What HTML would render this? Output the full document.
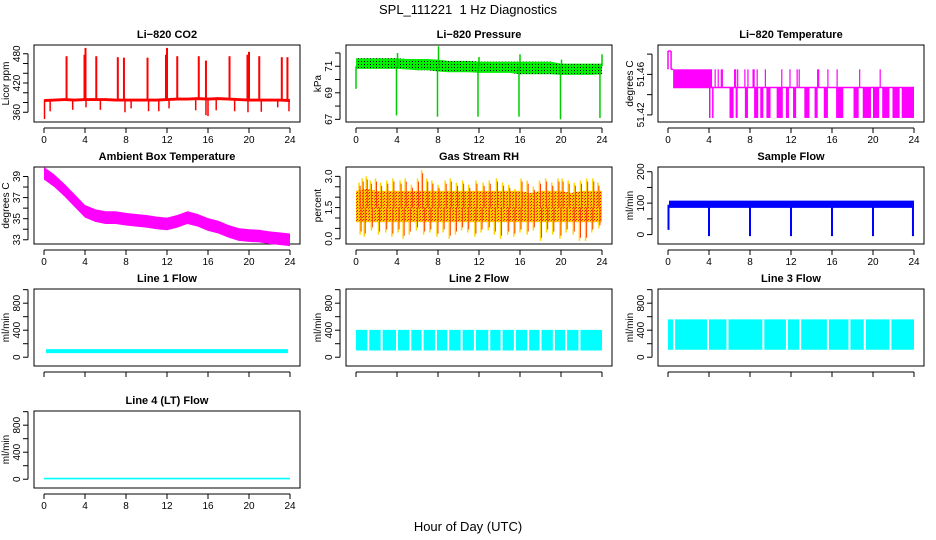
<!DOCTYPE html>
<html><head><meta charset="utf-8"><style>
html,body{margin:0;padding:0;background:#fff;}
svg{display:block;font-family:"Liberation Sans",Arial,sans-serif;}
</style></head><body>
<svg id="chart" width="936" height="540" viewBox="0 0 936 540" xmlns="http://www.w3.org/2000/svg">
<defs>
<pattern id="pgreen" width="3" height="3" patternUnits="userSpaceOnUse"><rect width="3" height="3" fill="#00ee00"/><rect x="1" y="1" width="1" height="1" fill="#000"/></pattern>
<pattern id="prh" width="3" height="3" patternUnits="userSpaceOnUse"><rect width="3" height="3" fill="#ffc800"/><rect x="0" y="0" width="1" height="1" fill="#ff0000"/><rect x="2" y="1" width="1" height="1" fill="#ff3000"/></pattern>
</defs>
<text x="468" y="14" text-anchor="middle" font-size="13">SPL_111221&#160;&#160;1 Hz Diagnostics</text>
<text x="468" y="531" text-anchor="middle" font-size="13">Hour of Day (UTC)</text>
</svg>
<script>
// ---------- data ----------
const xTicks = [0,4,8,12,16,20,24];
const hours = [0,1,2,3,4,5,6,7,8,9,10,11,12,13,14,15,16,17,18,19,20,21,22,23,24];
// CO2
const co2Base = [384,385,386,385,386,386,386,385,385,385,385,385,386,387,387,388,387,388,387,386,385,385,385,385,384];
const co2SpikeT = [2.2,3.95,4.05,5.1,7.2,7.8,10.1,11.9,12.0,13.0,15.1,15.8,18.1,19.85,20.0,21.0,23.2,23.75];
const co2SpikeV = [475,478,492,475,473,472,472,478,492,475,475,466,475,478,484,475,473,473];
const co2DipT = [0.05,0.6,2.8,4.1,5.5,7.9,8.5,10.2,11.2,12.2,14.8,15.8,16.0,16.8,18.6,19.9,21.2,22.8,23.9];
const co2DipV = [346,362,365,370,365,360,368,362,362,368,364,354,352,364,362,360,361,370,362];
const co2Ticks = [360,380,400,420,440,460,480];
const co2Labels = [360,420,480];
// Pressure
const presHi = [71.6,71.6,71.6,71.6,71.6,71.55,71.55,71.55,71.5,71.4,71.4,71.4,71.35,71.35,71.35,71.35,71.35,71.35,71.35,71.35,71.2,71.2,71.2,71.2,71.2];
const presLo = [70.8,70.8,70.8,70.8,70.8,70.75,70.7,70.7,70.6,70.55,70.55,70.55,70.5,70.5,70.5,70.5,70.4,70.4,70.4,70.4,70.35,70.35,70.35,70.35,70.4];
const presSpikeT = [0.0,3.95,4.05,7.95,8.05,11.9,12.0,15.9,16.0,19.95,20.05,23.8,24.0];
const presSpikeV = [69.3,67.3,72.0,67.2,72.5,67.2,71.7,67.2,71.9,67.0,71.5,67.1,71.9];
const presTicks = [67,68,69,70,71,72];
const presLabels = [67,69,71];
// Li-820 temperature
const tempStartT = [0.0,0.3,0.5];
const tempStartV = [51.483,51.465,51.447];
const tempBlockT = [0.5,4.3];
const tempDipStart = [4.0,4.3,6.0,6.6,7.5,8.4,9.0,9.6,10.6,11.5,12.2,13.3,14.3,15.2,16.4,18.1,19.0,20.0,20.9,21.9,22.8];
const tempDipEnd =   [4.05,4.35,6.4,6.8,7.8,8.8,9.3,10.0,11.2,11.8,12.5,13.8,14.6,15.6,17.1,18.6,19.8,20.6,21.6,22.6,24.0];
const tempUpT = [4.6,4.9,5.2,5.3,6.5,6.6,6.8,7.5,7.8,8.3,8.4,8.7,9.5,11.1,11.9,12.6,12.8,14.6,14.7,15.6,16.5,18.7,20.7];
const tempTicks = [51.42,51.44,51.46,51.48];
const tempLabels = ["51.42","51.46"];
// Ambient box temperature
const ambMean = [39.3,38.6,37.7,36.7,35.7,35.3,35.1,35.1,34.95,34.85,34.75,34.6,34.5,34.75,35.1,34.85,34.45,34.2,33.8,33.5,33.4,33.35,33.2,33.1,33.0];
const ambHalf = [0.6,0.6,0.6,0.6,0.6,0.6,0.6,0.6,0.6,0.6,0.6,0.6,0.6,0.6,0.6,0.6,0.6,0.6,0.6,0.6,0.6,0.6,0.6,0.6,0.6];
const ambTicks = [33,34,35,36,37,38,39];
const ambLabels = [33,35,37,39];
// RH
const rhHi = [2.3,2.4,2.3,2.3,2.3,2.3,2.3,2.3,2.3,2.3,2.3,2.3,2.3,2.3,2.3,2.3,2.3,2.2,2.3,2.3,2.3,2.2,2.3,2.3,2.3];
const rhLo = [0.8,0.8,0.8,0.8,0.8,0.8,0.8,0.8,0.8,0.8,0.8,0.8,0.8,0.8,0.8,0.8,0.8,0.8,0.8,0.8,0.8,0.8,0.8,0.8,0.8];
const rhUpT = [0.3,0.6,1.0,1.4,1.9,2.4,3.0,3.6,4.3,4.8,5.4,6.0,6.4,6.9,7.4,8.0,8.7,9.2,9.8,10.4,11.0,11.7,12.4,13.0,13.7,14.3,14.9,15.5,16.1,16.7,17.3,17.9,18.5,19.1,19.7,20.1,20.7,21.3,21.9,22.5,23.1,23.6];
const rhUpV = [2.7,2.9,3.0,2.8,2.9,2.7,2.8,2.9,2.8,2.9,2.6,2.9,3.3,2.9,2.8,2.6,2.8,2.9,2.7,2.8,2.6,2.8,2.7,2.8,2.9,2.7,2.6,2.4,2.9,2.8,2.5,2.8,2.9,2.7,2.9,2.9,2.8,2.7,2.8,2.9,2.9,2.7];
const rhDnT = [0.4,0.8,1.5,2.2,2.9,3.5,4.1,4.6,5.2,5.9,6.6,7.2,7.9,8.5,9.1,9.7,10.3,10.9,11.6,12.2,12.9,13.5,14.1,14.8,15.4,16.0,16.7,17.3,18.0,18.6,19.2,19.9,20.5,21.2,21.8,22.4,23.0,23.7];
const rhDnV = [0.2,0.1,0.4,0.2,0.3,0.1,0.3,0.0,0.2,0.4,0.2,0.3,0.1,0.3,0.0,0.2,0.4,0.3,0.1,0.3,0.4,0.2,0.0,0.2,0.1,0.3,0.2,0.4,-0.1,0.3,0.2,0.0,0.3,0.2,-0.1,-0.1,0.3,0.5];
const rhTicks = [0,0.5,1,1.5,2,2.5,3];
const rhLabels = ["0.0","1.5","3.0"];
// Sample flow
const sfHi = 108, sfLo = 85;
const sfDipT = [0.05,4.0,8.0,12.0,16.0,20.0,23.9];
const sfDipV = [15,-5,-5,-5,-5,-5,-5];
const sfTicks = [0,50,100,150,200];
const sfLabels = [0,100,200];
// Line flows
const flowTicks = [0,200,400,600,800,1000];
const flowLabels = [0,400,800];
const l1Hi = 120, l1Lo = 60;
const l2Hi = 405, l2Lo = 100;
const l2GapT = [1.2,2.5,4.0,5.3,6.5,7.8,9.0,10.3,11.6,13.0,14.2,15.5,16.8,18.0,19.3,20.5,21.8];
const l3Hi = 560, l3Lo = 110;
const l3GapT = [0.6,3.9,5.8,9.3,11.6,12.9,15.6,17.7,19.2,21.7];
const l4Val = 10;

// ---------- helpers ----------
const NS = "http://www.w3.org/2000/svg";
const svg = document.getElementById('chart');
function mk(tag, attrs, parent){
  const e = document.createElementNS(NS, tag);
  for (const k in attrs) e.setAttribute(k, attrs[k]);
  (parent||svg).appendChild(e);
  return e;
}
const COLL = [34,346,658], ROWT = [45,167,289,411], W = 266, H = 77;
function panel(col,row,ymin,ymax,title,ylab,yt,yl,name,showX){
  const L = COLL[col], T = ROWT[row], R = L+W, B = T+H;
  const g = mk('g',{});
  
  
  const sx = h => L+10+h/24*(W-20);
  const sy = v => B-(v-ymin)/(ymax-ymin)*H;
  const t = mk('text',{x:(L+R)/2,y:T-7,'text-anchor':'middle','font-size':11,'font-weight':'bold'},g);
  t.textContent = title;
  
  
  const box = mk('rect',{x:L,y:T,width:W,height:H,fill:'none',stroke:'#000','stroke-width':1},g);
  
  
  const xa = mk('g',{},g);
  
  
  mk('line',{x1:sx(xTicks[0]),x2:sx(xTicks[xTicks.length-1]),y1:B+6,y2:B+6,stroke:'#000'},xa);
  xTicks.forEach(v=>{
    mk('line',{x1:sx(v),x2:sx(v),y1:B+6,y2:B+11,stroke:'#000'},xa);
    if(showX){const tx=mk('text',{x:sx(v),y:B+21,'text-anchor':'middle','font-size':10},xa);tx.textContent=v;}
  });
  const ya = mk('g',{},g);
  
  
  mk('line',{x1:L-6,x2:L-6,y1:sy(yt[0]),y2:sy(yt[yt.length-1]),stroke:'#000'},ya);
  yt.forEach(v=>mk('line',{x1:L-6,x2:L-11,y1:sy(v),y2:sy(v),stroke:'#000'},ya));
  yl.forEach(v=>{const y=sy(parseFloat(v));const tx=mk('text',{x:L-14,y:y,'text-anchor':'middle','font-size':10,transform:`rotate(-90 ${L-14} ${y})`},ya);tx.textContent=v;});
  const yt2 = mk('text',{x:L-25,y:(T+B)/2,'text-anchor':'middle','font-size':10,transform:`rotate(-90 ${L-25} ${(T+B)/2})`},g);
  yt2.textContent = ylab;
  
  
  const d = mk('g',{},g);
  
  
  return {sx,sy,g:d};
}
function band(p,ts,hi,lo,fill){
  let pts = ts.map((t,i)=>p.sx(t)+','+p.sy(hi[i]));
  for(let i=ts.length-1;i>=0;i--) pts.push(p.sx(ts[i])+','+p.sy(lo[i]));
  const e = mk('polygon',{points:pts.join(' '),fill:fill},p.g);
  
  
}
function vline(p,t,v1,v2,col,w){
  const e = mk('line',{x1:p.sx(t),x2:p.sx(t),y1:p.sy(v1),y2:p.sy(v2),stroke:col,'stroke-width':w||1.5},p.g);
  
  
}

// CO2
let p = panel(0,0,340,498,'Li\u2212820 CO2','Licor ppm',co2Ticks,co2Labels,'co2',true);
band(p,hours,co2Base.map(v=>v+3),co2Base.map(v=>v-3),'#ff0000');
co2SpikeT.forEach((t,i)=>vline(p,t,385,co2SpikeV[i],'#ff0000',2));
co2DipT.forEach((t,i)=>vline(p,t,385,co2DipV[i],'#ff0000',1.5));

// Pressure
p = panel(1,0,66.8,72.6,'Li\u2212820 Pressure','kPa',presTicks,presLabels,'pressure',true);
band(p,hours,presHi,presLo,'url(#pgreen)');
presSpikeT.forEach((t,i)=>vline(p,t,71,presSpikeV[i],'#00cc00',1.5));

// Li-820 temperature
p = panel(2,0,51.413,51.489,'Li\u2212820 Temperature','degrees C',tempTicks,tempLabels,'li820-temperature',true);
{
  const M='#ff00ff';
  vline(p,tempStartT[0],tempStartV[0],tempStartV[1],M,1.5);
  mk('line',{x1:p.sx(tempStartT[0]),x2:p.sx(tempStartT[1]),y1:p.sy(tempStartV[0]),y2:p.sy(tempStartV[0]),stroke:M,'stroke-width':1.5},p.g);
  mk('line',{x1:p.sx(tempStartT[1]),x2:p.sx(tempStartT[2]),y1:p.sy(tempStartV[1]),y2:p.sy(tempStartV[1]),stroke:M,'stroke-width':1.5},p.g);
  vline(p,tempStartT[1],tempStartV[0],tempStartV[1],M,1.5);
  const blk = mk('rect',{x:p.sx(tempBlockT[0]),y:p.sy(tempStartV[1]),width:p.sx(tempBlockT[1])-p.sx(tempBlockT[0]),height:p.sy(tempStartV[2])-p.sy(tempStartV[1]),fill:M},p.g);
  
  
  mk('line',{x1:p.sx(tempStartT[2]),x2:p.sx(24),y1:p.sy(tempStartV[2]),y2:p.sy(tempStartV[2]),stroke:M,'stroke-width':1.5},p.g);
  tempDipStart.forEach((s,i)=>{
    const r = mk('rect',{x:p.sx(s),y:p.sy(tempStartV[2]),width:Math.max(1.5,p.sx(tempDipEnd[i])-p.sx(s)),height:p.sy(51.417)-p.sy(tempStartV[2]),fill:M},p.g);
    
    
  });
  tempUpT.forEach(t=>vline(p,t,tempStartV[2],tempStartV[1],M,1.2));
}

// Ambient
p = panel(0,1,32.6,39.9,'Ambient Box Temperature','degrees C',ambTicks,ambLabels,'ambient-temperature',true);
band(p,hours,ambMean.map((v,i)=>v+ambHalf[i]),ambMean.map((v,i)=>v-ambHalf[i]),'#ff00ff');

// RH
p = panel(1,1,-0.25,3.45,'Gas Stream RH','percent',rhTicks,rhLabels,'gas-stream-rh',true);
rhUpT.forEach((t,i)=>vline(p,t,1.5,rhUpV[i],'#ffd800',1.5));
rhDnT.forEach((t,i)=>vline(p,t,1.5,rhDnV[i],'#ffd800',1.5));
band(p,hours,rhHi,rhLo,'url(#prh)');
rhUpT.forEach((t,i)=>vline(p,t+0.1,1.5,rhUpV[i]-0.15,'#ff4000',1));
rhDnT.forEach((t,i)=>vline(p,t+0.1,1.5,rhDnV[i]+0.15,'#ff4000',1));

// Sample flow
p = panel(2,1,-30,215,'Sample Flow','ml/min',sfTicks,sfLabels,'sample-flow',true);
band(p,[0.1,24],[sfHi,sfHi],[sfLo,sfLo],'#0000ff');
sfDipT.forEach((t,i)=>vline(p,t,95,sfDipV[i],'#0000ff',2));

// Line 1
p = panel(0,2,-130,1010,'Line 1 Flow','ml/min',flowTicks,flowLabels,'line1-flow',false);
band(p,[0.2,23.8],[l1Hi,l1Hi],[l1Lo,l1Lo],'#00ffff');
// Line 2
p = panel(1,2,-130,1010,'Line 2 Flow','ml/min',flowTicks,flowLabels,'line2-flow',false);
band(p,[0,24],[l2Hi,l2Hi],[l2Lo,l2Lo],'#00ffff');
l2GapT.forEach(t=>vline(p,t,l2Hi,l2Lo,'#ffffff',2));
// Line 3
p = panel(2,2,-130,1010,'Line 3 Flow','ml/min',flowTicks,flowLabels,'line3-flow',false);
band(p,[0,24],[l3Hi,l3Hi],[l3Lo,l3Lo],'#00ffff');
l3GapT.forEach(t=>vline(p,t,l3Hi,l3Lo,'#ffffff',2));
// Line 4
p = panel(0,3,-130,1010,'Line 4 (LT) Flow','ml/min',flowTicks,flowLabels,'line4-flow',true);
band(p,[0,24],[l4Val+12,l4Val+12],[l4Val-12,l4Val-12],'#00ffff');
</script>
</body></html>
